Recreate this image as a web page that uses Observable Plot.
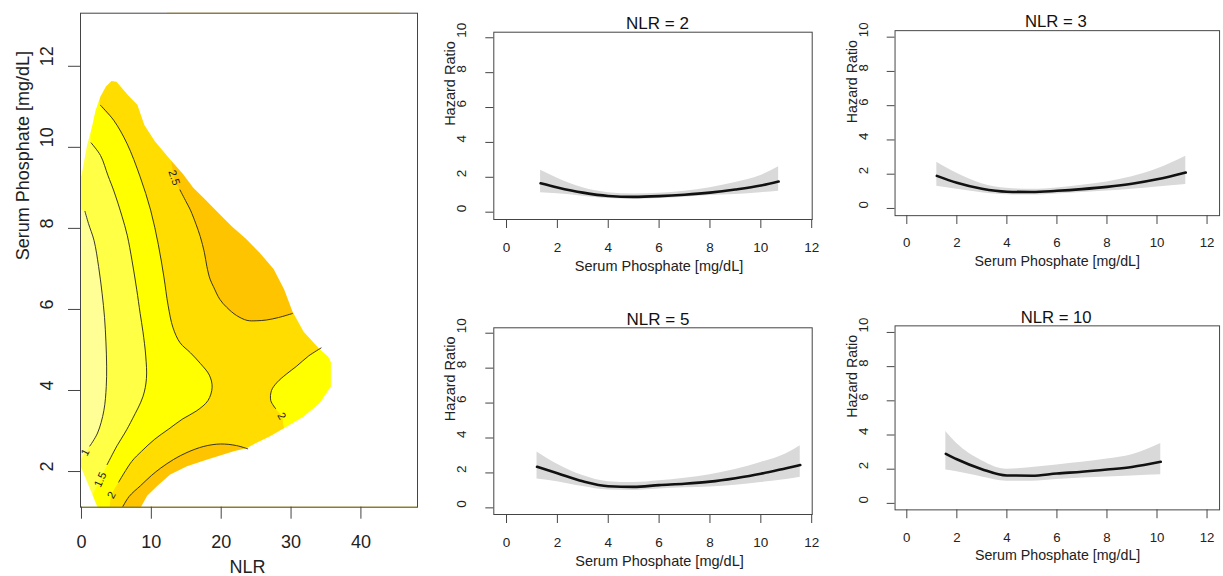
<!DOCTYPE html>
<html>
<head>
<meta charset="utf-8">
<script src="https://cdn.jsdelivr.net/npm/d3@7"></script>
<script src="https://cdn.jsdelivr.net/npm/@observablehq/plot@0.6"></script>
<style>
html, body { margin: 0; padding: 0; background: #fff; width: 1223px; height: 576px; overflow: hidden; }
#root { position: relative; width: 1223px; height: 576px; overflow: hidden; }
.panel { position: absolute; }
</style>
</head>
<body>
<div id="root"></div>
<script>
// ================= DATA =================
// ---- Left panel: hazard-ratio contour map over NLR x serum phosphate ----
const nlrTicks = [0, 10, 20, 30, 40];
const phosTicksLeft = [2, 4, 6, 8, 10, 12];

// contour lines [NLR, phosphate]
const contourHR1 = [[0.5,8.42],[1.0,8.12],[1.8,7.7],[2.45,7.06],[2.95,6.4],[3.3,5.8],[3.5,5.2],[3.6,4.6],[3.55,4.1],[3.2,3.5],[2.3,2.95],[1.2,2.63]];
const contourHR15 = [[1.38,10.11],[2.72,9.8],[3.8,9.3],[4.64,8.92],[5.8,8.3],[6.55,7.83],[7.24,7.2],[7.9,6.5],[8.4,5.9],[8.8,5.45],[9.2,4.85],[9.3,4.3],[8.8,3.85],[7.3,3.3],[6.2,2.95],[5.1,2.64],[3.67,2.17]];
const contourHR2 = [[2.71,11.04],[4.6,10.67],[6.5,10.1],[8.4,9.27],[9.9,8.45],[11.0,7.6],[11.8,6.8],[12.4,6.1],[13.1,5.55],[14.1,5.18],[15.6,4.93],[17.0,4.67],[18.3,4.38],[18.7,4.08],[18.1,3.75],[16.5,3.5],[14.5,3.3],[12.5,3.05],[10.5,2.8],[8.6,2.5],[7.2,2.25],[5.33,1.74]];
const contourHR25top = [[14.1,8.95],[15.0,8.65],[15.6,8.45],[16.4,8.1],[17.0,7.8],[17.6,7.4],[17.95,7.06],[18.4,6.75],[18.9,6.56],[19.8,6.25],[20.8,6.05],[22.2,5.85],[23.7,5.73],[25.0,5.72],[26.5,5.74],[28.2,5.8],[30.2,5.9]];
const contourHR25bottom = [[5.5,1.0],[6.8,1.38],[8.45,1.65],[10.0,1.9],[11.3,2.08],[13.2,2.3],[15.1,2.47],[17.5,2.62],[19.9,2.68],[22.2,2.64],[23.8,2.56]];
const contourHR2lobe = [[34.3,5.05],[32.5,4.85],[30.8,4.6],[29.3,4.4],[28.0,4.2],[27.2,4.0],[27.1,3.75],[27.8,3.55]];

// contour labels
const contourLabels = [
  {text: "1",   nlr: 0.55,  phos: 2.47},
  {text: "1.5", nlr: 2.71,  phos: 1.80},
  {text: "2",   nlr: 4.30,  phos: 1.42},
  {text: "2.5", nlr: 13.25, phos: 9.25},
  {text: "2",   nlr: 28.65, phos: 3.37}
];

// outline of the region covered by data [NLR, phosphate]
const maskUpper = [[0,9.3],[0.8,10.05],[1.5,10.5],[2.0,10.9],[2.7,11.25],[3.5,11.5],[4.3,11.64],[5.0,11.62],[5.6,11.5],[6.6,11.3],[8.0,11.05],[9.0,10.55],[10.5,10.15],[12.6,9.72],[14.5,9.35],[16.0,9.0],[17.5,8.75],[19.5,8.4],[21.5,8.05],[23.5,7.75],[25.5,7.4],[27.5,7.0],[29.0,6.5],[30.2,5.95],[31.8,5.45],[34.1,5.02],[35.3,4.84],[35.7,4.7]];
const maskLower = [[35.7,4.1],[34.1,3.69],[31.8,3.36],[29.4,3.11],[27.0,2.87],[24.6,2.67],[23.7,2.58],[21.8,2.5],[18.0,2.3],[15.1,2.13],[12.7,1.93],[10.8,1.64],[9.4,1.4],[8.5,1.12]];
const maskCorner = [[2.3,1.12],[0,2.08]];

// ---- Right panels: hazard ratio vs serum phosphate at fixed NLR ----
const panelTitles = ["NLR = 2", "NLR = 3", "NLR = 5", "NLR = 10"];
const hrTicks = [0, 2, 4, 6, 8, 10];
const phosTicksRight = [0, 2, 4, 6, 8, 10, 12];

const phosNLR2 = [1.34, 2, 3, 4, 5, 6, 7, 8, 9, 10, 10.7];
const hrNLR2   = [1.66, 1.42, 1.12, 0.93, 0.88, 0.92, 1.0, 1.12, 1.3, 1.53, 1.76];
const loNLR2   = [1.12, 1.05, 0.92, 0.78, 0.74, 0.78, 0.85, 0.95, 1.02, 1.12, 1.2];
const hiNLR2   = [2.4, 1.95, 1.4, 1.12, 1.04, 1.08, 1.2, 1.4, 1.7, 2.1, 2.6];

const phosNLR3 = [1.2, 2, 3, 4, 5, 6, 7, 8, 9, 10, 11.15];
const hrNLR3   = [1.9, 1.5, 1.15, 0.98, 0.96, 1.03, 1.13, 1.26, 1.44, 1.7, 2.1];
const loNLR3   = [1.3, 1.12, 0.92, 0.8, 0.78, 0.85, 0.93, 1.02, 1.12, 1.25, 1.4];
const hiNLR3   = [2.7, 2.05, 1.45, 1.18, 1.12, 1.2, 1.35, 1.55, 1.85, 2.3, 3.05];

const phosNLR5 = [1.2, 2, 3, 4, 5, 6, 7, 8, 9, 10, 11, 11.55];
const hrNLR5   = [2.35, 1.98, 1.52, 1.24, 1.2, 1.3, 1.38, 1.5, 1.7, 1.95, 2.27, 2.45];
const loNLR5   = [1.65, 1.5, 1.22, 1.02, 1.0, 1.08, 1.15, 1.2, 1.3, 1.45, 1.62, 1.76];
const hiNLR5   = [3.2, 2.5, 1.85, 1.5, 1.45, 1.55, 1.7, 1.9, 2.2, 2.6, 3.1, 3.55];

const phosNLR10 = [1.56, 2, 3, 4, 5, 6, 7, 8, 9, 10.15];
const hrNLR10   = [2.9, 2.58, 2.0, 1.63, 1.62, 1.75, 1.85, 1.98, 2.13, 2.43];
const loNLR10   = [1.95, 1.85, 1.55, 1.3, 1.3, 1.4, 1.48, 1.55, 1.6, 1.67];
const hiNLR10   = [4.2, 3.5, 2.5, 2.0, 2.1, 2.25, 2.4, 2.6, 2.85, 3.5];

// ================= DRAWING =================
const FONT = "'Liberation Sans', Arial, Helvetica, sans-serif";
const INK = "#222";
const AXIS = "#444";
const C_PALE = "#FFFF96", C_LIGHT = "#FFFF45", C_YELLOW = "#FFFF00", C_GOLD = "#FFDD00", C_ORANGE = "#FFC400";
const root = document.getElementById("root");

function place(svg, left, top, w, h) {
  const div = document.createElement("div");
  div.className = "panel";
  div.style.left = left + "px";
  div.style.top = top + "px";
  div.style.width = Math.min(w, 1223 - left) + "px";
  div.style.height = h + "px";
  div.style.overflow = "hidden";
  div.appendChild(svg);
  root.appendChild(div);
}

const px = d => d[0], py = d => d[1];
function poly(points, color, curve = "catmull-rom") {
  return Plot.line(points, {x: px, y: py, fill: color, stroke: "none", curve, clip: "frame"});
}
function cline(points) {
  return Plot.line(points, {x: px, y: py, stroke: INK, strokeWidth: 0.9, curve: "catmull-rom", clip: "frame"});
}

// filled bands: each contour line closed outside the data region (hidden afterwards)
const regionPale   = [[-3,8.45], ...contourHR1, [0.55,2.47], [-0.3,2.3], [-3,2.3]];
const regionLight  = [[-3,10.6], [1.1,10.6], ...contourHR15, [2.71,1.8], [1.6,1.41], [1.0,0.8], [-3,0.8]];
const regionYellow = [[-3,11.8], [2.4,11.8], ...contourHR2, [4.3,1.42], [3.4,0.8], [-3,0.8]];
const regionOrangeTop = [[12.3,14], [12.3,10.3], [12.9,9.6], [13.25,9.25], ...contourHR25top, [31,5.9], [45,5.9], [45,14]];
const regionOrangeBottom = [[5.3,0.6], ...contourHR25bottom, [24.5,2.5], [45,2.5], [45,0.6]];
const regionLobe = [[45,5.15], [34.6,5.15], ...contourHR2lobe, [28.65,3.37], [29.4,3.0], [45,3.0]];
const outsideMain = [[-1,14.5], [-1,9.3], ...maskUpper, ...maskLower, [8.5,0.5], [50,0.5], [50,14.5]];
const outsideCorner = [[-1,2.08], ...maskCorner.slice().reverse(), [2.3,0.5], [-1,0.5]];
const labelAngles = [-62, -66, -62, 72, 60];

const leftPlot = Plot.plot({
  width: 430, height: 576,
  marginLeft: 80, marginRight: 13, marginTop: 12.7, marginBottom: 69.3,
  x: {domain: [-0.14, 48.1]},
  y: {domain: [1.12, 13.31]},
  style: {fontFamily: FONT, fontSize: "18px", background: "transparent", color: INK, overflow: "visible"},
  marks: [
    Plot.frame({fill: C_GOLD, stroke: "none"}),
    poly(regionOrangeTop, C_ORANGE),
    poly(regionOrangeBottom, C_ORANGE),
    poly(regionLobe, C_YELLOW),
    poly(regionYellow, C_YELLOW),
    poly(regionLight, C_LIGHT),
    poly(regionPale, C_PALE),
    poly(outsideMain, "#fff", "linear"),
    poly(outsideCorner, "#fff", "linear"),
    cline(contourHR1), cline(contourHR15), cline(contourHR2),
    cline(contourHR25top), cline(contourHR25bottom), cline(contourHR2lobe),
    Plot.text(contourLabels, {x: "nlr", y: "phos", text: "text", rotate: (d, i) => labelAngles[i],
      fontSize: 11, fill: INK}),
    Plot.frame({stroke: AXIS, strokeWidth: 1}),
    Plot.axisX({ticks: nlrTicks, tickSize: 12, tickFormat: () => "", label: null, stroke: AXIS}),
    Plot.axisY({ticks: phosTicksLeft, tickSize: 12, tickFormat: () => "", label: null, stroke: AXIS}),
    Plot.text(nlrTicks, {x: d => d, text: d => String(d), frameAnchor: "bottom", dy: 35.5, fontSize: 18, fill: INK, lineAnchor: "middle"}),
    Plot.text(phosTicksLeft, {y: d => d, text: d => String(d), frameAnchor: "left", dx: -33.5, rotate: -90, fontSize: 18, fill: INK, lineAnchor: "middle"}),
    Plot.text(["NLR"], {text: d => d, frameAnchor: "bottom", dy: 60, dx: -1.5, fontSize: 18, fill: INK, lineAnchor: "middle"}),
    Plot.text(["Serum Phosphate [mg/dL]"], {text: d => d, frameAnchor: "left", dx: -57, rotate: -90, fontSize: 18, fill: INK, lineAnchor: "middle"})
  ]
});
place(leftPlot, 0, 0, 430, 576);

function rows(xs, hr, lo, hi) {
  return xs.map((x, i) => ({phos: x, hr: hr[i], lo: lo[i], hi: hi[i]}));
}

function panel(title, data, cfg) {
  return Plot.plot({
    width: 400, height: cfg.h,
    marginLeft: cfg.ml, marginRight: cfg.mr, marginTop: cfg.mt, marginBottom: cfg.mb,
    x: {domain: cfg.xd},
    y: {domain: cfg.yd},
    style: {fontFamily: FONT, fontSize: "13.5px", background: "transparent", color: INK, overflow: "visible"},
    marks: [
      Plot.areaY(data, {x: "phos", y1: "lo", y2: "hi", fill: "#d9d9d9", curve: "monotone-x"}),
      Plot.line(data, {x: "phos", y: "hr", stroke: "#111", strokeWidth: 2.6, curve: "monotone-x"}),
      Plot.frame({stroke: AXIS, strokeWidth: 1}),
      Plot.axisX({ticks: phosTicksRight, tickSize: 9, tickFormat: () => "", label: null, stroke: AXIS}),
      Plot.axisY({ticks: hrTicks, tickSize: 8, tickFormat: () => "", label: null, stroke: AXIS}),
      Plot.text(phosTicksRight, {x: d => d, text: d => String(d), frameAnchor: "bottom", dy: 28, fontSize: 13.5, fill: INK, lineAnchor: "middle"}),
      Plot.text(hrTicks, {y: d => d, text: d => String(d), frameAnchor: "left", dx: -32, rotate: -90, fontSize: 13.5, fill: INK, lineAnchor: "middle"}),
      Plot.text(["Hazard Ratio"], {text: d => d, frameAnchor: "left", dx: -43.5, rotate: -90, fontSize: 14.5, fill: INK, lineAnchor: "middle"}),
      Plot.text(["Serum Phosphate [mg/dL]"], {text: d => d, frameAnchor: "bottom", dy: 46.5, dx: cfg.tdx + 1.5, fontSize: 14.5, fill: INK, lineAnchor: "middle"}),
      Plot.text([title], {text: d => d, frameAnchor: "top", dy: -8.7, dx: cfg.tdx, fontSize: 17, fill: "#111", lineAnchor: "middle"})
    ]
  });
}

const cfgTopLeft  = {h: 290, ml: 63.3, mr: 18.3, mt: 31.7, mb: 71,   xd: [-0.5, 12.02],  yd: [-0.42, 10.32], tdx: 4.5};
const cfgTopRight = {h: 290, ml: 65.7, mr: 4,    mt: 30.7, mb: 71,   xd: [-0.47, 12.5],  yd: [-0.42, 10.38], tdx: -1.5};
const cfgBotLeft  = {h: 286, ml: 63.3, mr: 18.3, mt: 37.3, mb: 62,   xd: [-0.5, 12.02],  yd: [-0.38, 10.31], tdx: 5};
const cfgBotRight = {h: 286, ml: 65.7, mr: 4,    mt: 36,   mb: 62.7, xd: [-0.47, 12.5],  yd: [-0.38, 10.385], tdx: -1.2};

place(panel(panelTitles[0], rows(phosNLR2, hrNLR2, loNLR2, hiNLR2), cfgTopLeft), 430, 0, 400, 290);
place(panel(panelTitles[1], rows(phosNLR3, hrNLR3, loNLR3, hiNLR3), cfgTopRight), 830, 0, 400, 290);
place(panel(panelTitles[2], rows(phosNLR5, hrNLR5, loNLR5, hiNLR5), cfgBotLeft), 430, 290, 400, 286);
place(panel(panelTitles[3], rows(phosNLR10, hrNLR10, loNLR10, hiNLR10), cfgBotRight), 830, 290, 400, 286);
</script>
</body>
</html>
